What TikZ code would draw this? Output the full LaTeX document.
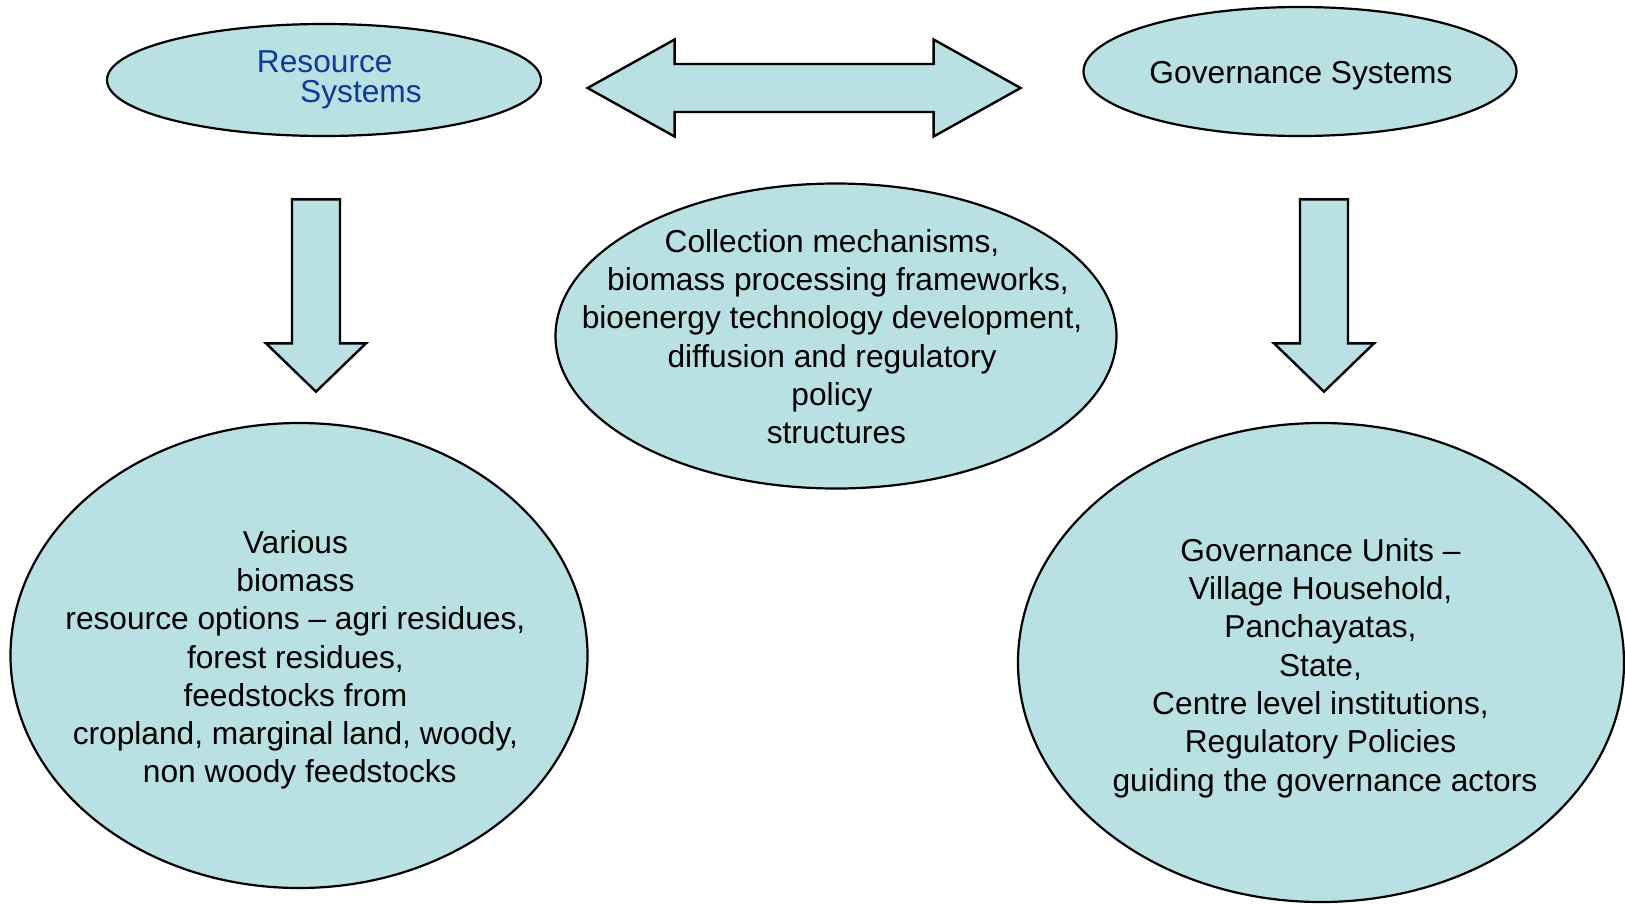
\documentclass[tikz,border=0pt]{standalone}
\usepackage{fontspec}
\setmainfont{Liberation Sans}
\usetikzlibrary{shapes.geometric}
\definecolor{bubblefill}{RGB}{185,224,227}
\definecolor{titleblue}{RGB}{16,58,150}
\begin{document}
\begin{tikzpicture}[x=1pt, y=-1pt, line join=miter,
		bubble/.style={ellipse, draw=black, fill=bubblefill, line width=2.2pt, inner sep=0pt},
		blockarrow/.style={draw=black, fill=bubblefill, line width=2.4pt},
		txt/.style={align=center, inner sep=0pt, font=\fontsize{31.7}{38.3}\selectfont}]
	%%%%%%%%%%%%%%%%%%%%%%%%%%%%%%%%%
	\useasboundingbox (0,0) rectangle (1625,903);
	%%%%%%%%%%%%%%%%%%%%%%%%%%%%%%%%%
	\node[bubble, minimum width=434, minimum height=112] (RS) at (324,80) {};
	\node[bubble, minimum width=433, minimum height=129] (GS) at (1300,71.5) {};
	\node[bubble, minimum width=561, minimum height=305] (CM) at (836,336) {};
	\node[bubble, minimum width=577, minimum height=465] (RO) at (299,655.5) {};
	\node[bubble, minimum width=606, minimum height=479] (GU) at (1321,662.5) {};
	%%%%%%%%%%%%%%%%%%%%%%%%%%%%%%%%%
	\coordinate (L) at (587.6,88);
	\coordinate (R) at (1020.6,88);
	\coordinate (DL) at (316,391.7);
	\coordinate (DR) at (1324,391.7);
	%%%%%%%%%%%%%%%%%%%%%%%%%%%%%%%%%
	\filldraw[blockarrow] (L) -- ++(87,-48.5) -- ++(0,24.5) -- ++(259,0) -- ++(0,-24.5) -- (R)
		-- ++(-87,48.5) -- ++(0,-24.5) -- ++(-259,0) -- ++(0,24.5) -- cycle;
	\filldraw[blockarrow] (DL) -- ++(-50,-48.4) -- ++(26,0) -- ++(0,-144) -- ++(48,0)
		-- ++(0,144) -- ++(26,0) -- cycle;
	\filldraw[blockarrow] (DR) -- ++(-50,-48.4) -- ++(26,0) -- ++(0,-144) -- ++(48,0)
		-- ++(0,144) -- ++(26,0) -- cycle;
	%%%%%%%%%%%%%%%%%%%%%%%%%%%%%%%%%
	\node[txt, align=left, text=titleblue, font=\fontsize{31.7}{30}\selectfont, anchor=north west]
		(RStxt) at (256.7,50) {Resource\\\hspace*{43.3pt}Systems};
	\node[txt, anchor=base] (GStxt) at (1301,83.3) {Governance Systems};
	\node[txt] (CMtxt) at (832,336.8) {Collection mechanisms,\\\hspace*{12pt}biomass processing frameworks,\\
		bioenergy technology development,\\ diffusion and regulatory\\ policy\\\hspace*{8.8pt}structures};
	\node[txt] (ROtxt) at (295.4,659.8) {Various\\ biomass\\ resource options -- agri residues,\\
		forest residues,\\ feedstocks from\\ cropland, marginal land, woody,\\\hspace*{8.8pt}non woody feedstocks};
	\node[txt] (GUtxt) at (1320.5,668) {Governance Units --\\ Village Household,\\ Panchayatas,\\
		State,\\ Centre level institutions,\hspace*{8.8pt}\\ Regulatory Policies\\\hspace*{8.8pt}guiding the governance actors};
	%%%%%%%%%%%%%%%%%%%%%%%%%%%%%%%%%
\end{tikzpicture}
\end{document}
